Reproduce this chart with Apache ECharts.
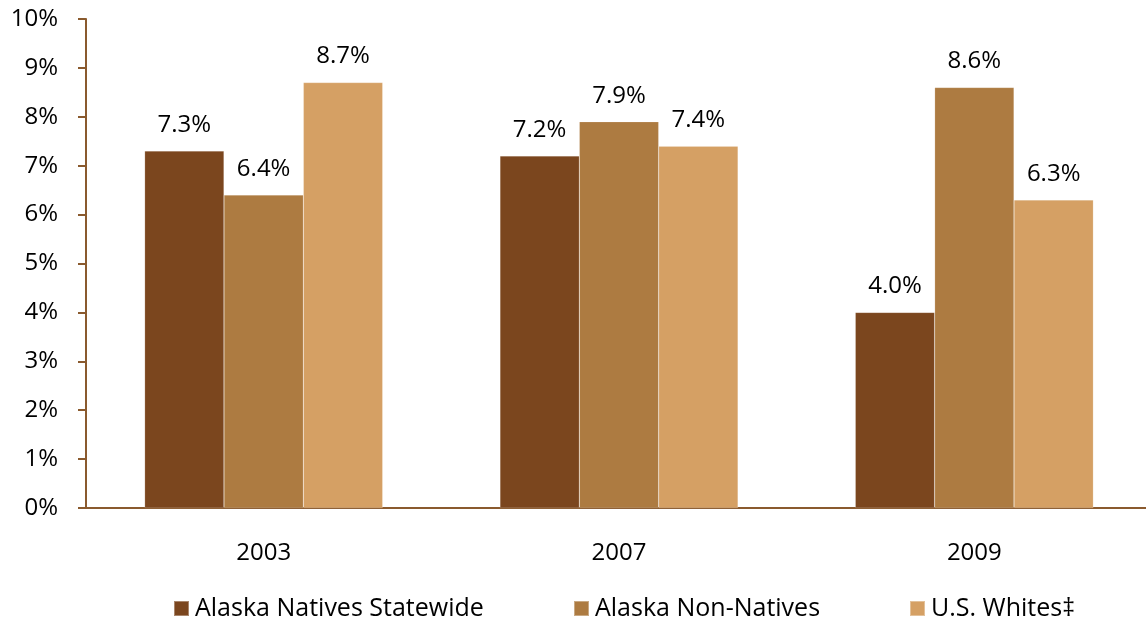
<!DOCTYPE html>
<html>
<head>
<meta charset="utf-8">
<script src="https://cdn.jsdelivr.net/npm/echarts@6/dist/echarts.min.js"></script>
<style>
  html, body { margin: 0; padding: 0; background: #ffffff; }
  #chart { width: 1146px; height: 620px; }
</style>
</head>
<body>
<div id="chart"></div>
<script>
// Survey years on the category axis
const years = ['2003', '2007', '2009'];

// Percentages for each group
const alaskaNatives = [7.3, 7.2, 4.0];
const alaskaNonNatives = [6.4, 7.9, 8.6];
const usWhites = [8.7, 7.4, 6.3];

const seriesNames = ['Alaska Natives Statewide', 'Alaska Non-Natives', 'U.S. Whites\u2021'];
const seriesColors = ['#7B461E', '#AD7B41', '#D5A064'];

const fontFamily = '"Open Sans", Lato, sans-serif';
const fontSize = 24;
const axisBrown = '#8A5A2E';

function barSeries(name, data, color) {
  return {
    name: name,
    type: 'bar',
    data: data,
    barGap: '0%',
    barCategoryGap: '33%',
    itemStyle: { color: color, borderColor: 'rgba(255,255,255,0.35)', borderWidth: 0.5 },
    label: {
      show: true,
      position: 'top',
      distance: 14,
      formatter: p => p.value.toFixed(1) + '%',
      color: '#000',
      fontFamily: fontFamily,
      fontSize: fontSize
    }
  };
}

// One legend block per series so each entry sits at its own spot
const legendLefts = [168, 568, 904];
const legends = seriesNames.map((name, i) => ({
  top: 591,
  left: legendLefts[i],
  itemWidth: 15,
  itemHeight: 15,
  icon: 'rect',
  textStyle: { fontFamily: fontFamily, fontSize: 25, color: '#000', padding: [0, 0, 0, 1] },
  data: [name]
}));

const chart = echarts.init(document.getElementById('chart'));
chart.setOption({
  animation: false,
  grid: {
    left: 86, width: 1066, top: 19, height: 489,
    containLabel: false,
    outerBoundsMode: 'none'
  },
  legend: legends,
  xAxis: {
    type: 'category',
    data: years,
    axisLine: { lineStyle: { color: axisBrown, width: 2 } },
    axisTick: { show: false },
    axisLabel: { color: '#000', fontFamily: fontFamily, fontSize: fontSize, margin: 33 }
  },
  yAxis: {
    type: 'value',
    min: 0,
    max: 10,
    interval: 1,
    axisLine: { show: true, lineStyle: { color: axisBrown, width: 2 } },
    axisTick: { show: true, length: 8, lineStyle: { color: axisBrown, width: 2 } },
    splitLine: { show: false },
    axisLabel: {
      color: '#000',
      fontFamily: fontFamily,
      fontSize: fontSize,
      margin: 28,
      formatter: v => v + '%'
    }
  },
  series: [
    barSeries(seriesNames[0], alaskaNatives, seriesColors[0]),
    barSeries(seriesNames[1], alaskaNonNatives, seriesColors[1]),
    barSeries(seriesNames[2], usWhites, seriesColors[2])
  ]
});
</script>
</body>
</html>
